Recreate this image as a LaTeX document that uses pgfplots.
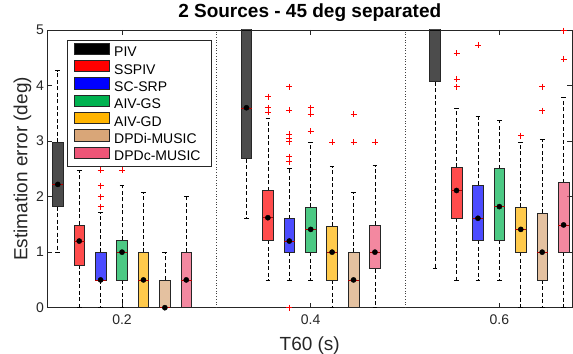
\documentclass[border=0pt]{standalone}
\usepackage{fontspec}
\setmainfont{Liberation Sans}
\usepackage{pgfplots}
\pgfplotsset{compat=1.18}
\usepgfplotslibrary{statistics}
\definecolor{cPIV}{RGB}{0,0,0}
\definecolor{cSSPIV}{RGB}{255,0,0}
\definecolor{cSCSRP}{RGB}{0,0,255}
\definecolor{cAIVGS}{RGB}{0,178,80}
\definecolor{cAIVGD}{RGB}{255,180,0}
\definecolor{cDPDi}{RGB}{217,166,120}
\definecolor{cDPDc}{RGB}{238,85,119}
\definecolor{axc}{RGB}{38,38,38}
\pgfplotsset{
  mybox/.style={forget plot, draw=axc, line width=0.7pt,
    mark=+, mark size=3pt, mark options={red, solid, line width=0.7pt},
    boxplot/draw direction=y,
    boxplot/every box/.style={fill=#1, fill opacity=0.7},
    boxplot/every median/.style={draw=red!70!black, line width=0.5pt},
    boxplot/draw/lower whisker/.code={%
      \draw[black, line width=0.6pt, dash pattern=on 4pt off 2.5pt]
        (boxplot cs:\pgfplotsboxplotvalue{lower quartile}) -- (boxplot cs:\pgfplotsboxplotvalue{lower whisker});
      \draw[black, line width=0.6pt]
        (boxplot whisker cs:\pgfplotsboxplotvalue{lower whisker},0) -- (boxplot whisker cs:\pgfplotsboxplotvalue{lower whisker},1);},
    boxplot/draw/upper whisker/.code={%
      \draw[black, line width=0.6pt, dash pattern=on 4pt off 2.5pt]
        (boxplot cs:\pgfplotsboxplotvalue{upper quartile}) -- (boxplot cs:\pgfplotsboxplotvalue{upper whisker});
      \draw[black, line width=0.6pt]
        (boxplot whisker cs:\pgfplotsboxplotvalue{upper whisker},0) -- (boxplot whisker cs:\pgfplotsboxplotvalue{upper whisker},1);},
  },
}
% #1 colour, #2 position, #3 lower whisker, #4 lower quartile, #5 median, #6 upper quartile, #7 upper whisker
\newcommand{\bx}[7]{\addplot[mybox=#1, boxplot prepared={draw position=#2, lower whisker=#3, lower quartile=#4, median=#5, upper quartile=#6, upper whisker=#7, box extend=0.0113, whisker extend=0.005}]}
\begin{document}
\begin{tikzpicture}
\begin{axis}[
  scale only axis, width=524.5pt, height=277.7pt,
  xmin=0.121, xmax=0.677, ymin=0, ymax=5,
  xtick={0.2,0.4,0.6}, xticklabels={0.2,0.4,0.6},
  ytick={0,1,2,3,4,5},
  tick align=inside, tick pos=both, major tick length=5pt,
  axis line style={axc, line width=0.6pt},
  every tick/.style={axc, line width=0.6pt},
  tick label style={font=\fontsize{14}{14}\selectfont, text=axc},
  /pgf/number format/assume math mode=true,
  xticklabel style={yshift=-3pt},
  title={\textbf{2 Sources - 45 deg separated}},
  title style={font=\fontsize{19}{19}\selectfont, at={(axis description cs:0.5,1)}, anchor=base, yshift=6.5pt, inner sep=0pt},
  xlabel={T60 (s)},
  xlabel style={font=\fontsize{19}{19}\selectfont, at={(axis description cs:0.5,0)}, anchor=base, yshift=-43pt, inner sep=0pt, text=axc},
  ylabel={Estimation error (deg)},
  ylabel style={font=\fontsize{19}{19}\selectfont, at={(axis description cs:-0.0385,0.5)}, anchor=base, inner sep=0pt, text=axc},
  legend image code/.code={\draw[#1, draw=axc, line width=0.7pt] (0pt,-1.2pt) rectangle (35pt,10pt);},
  legend cell align=left,
  legend style={at={(axis description cs:0.0366,0.964)}, anchor=north west, draw=axc, line width=0.5pt, fill=white,
    inner xsep=6.6pt, inner ysep=2.5pt, font=\fontsize{14}{14}\selectfont,
    nodes={font=\fontsize{14}{14}\selectfont, inner sep=0pt, text height=10.6pt, text depth=3.4pt, text width=90pt, align=left},
    column sep=5pt, row sep=0pt},
]
\coordinate (bl) at (rel axis cs:0,0);
\coordinate (tr) at (rel axis cs:1,1);
\addlegendimage{fill=cPIV}\addlegendentry{PIV}
\addlegendimage{fill=cSSPIV}\addlegendentry{SSPIV}
\addlegendimage{fill=cSCSRP}\addlegendentry{SC-SRP}
\addlegendimage{fill=cAIVGS}\addlegendentry{AIV-GS}
\addlegendimage{fill=cAIVGD}\addlegendentry{AIV-GD}
\addlegendimage{fill=cDPDi}\addlegendentry{DPDi-MUSIC}
\addlegendimage{fill=cDPDc}\addlegendentry{DPDc-MUSIC}

\addplot[forget plot, black!75, dotted, line width=0.7pt] coordinates {(0.3,0) (0.3,5)};
\addplot[forget plot, black!75, dotted, line width=0.7pt] coordinates {(0.5,0) (0.5,5)};

% T60 = 0.2
\bx{cPIV}{0.1319}{1.0}{1.82}{2.22}{2.98}{4.27} coordinates {};
\bx{cSSPIV}{0.1546}{0}{0.77}{1.2}{1.49}{2.48} coordinates {};
\bx{cSCSRP}{0.1773}{0}{0.5}{0.5}{1.0}{1.71} coordinates {(0,1.82) (0,2.0) (0,2.2) (0,2.48)};
\bx{cAIVGS}{0.2}{0}{0.5}{1.0}{1.21}{2.2} coordinates {(0,2.48)};
\bx{cAIVGD}{0.2227}{0}{0}{0.5}{1.0}{2.07} coordinates {};
\bx{cDPDi}{0.2454}{0}{0}{0}{0.5}{1.0} coordinates {};
\bx{cDPDc}{0.2681}{0}{0}{0.5}{1.0}{2.0} coordinates {};
% T60 = 0.4
\bx{cPIV}{0.3319}{1.61}{2.68}{3.6}{5.6}{6.5} coordinates {};
\bx{cSSPIV}{0.3546}{0.5}{1.21}{1.62}{2.11}{3.41} coordinates {(0,3.52) (0,3.6) (0,3.8)};
\bx{cSCSRP}{0.3773}{0.5}{1.0}{1.2}{1.6}{2.51} coordinates {(0,0) (0,2.63) (0,2.72) (0,2.99) (0,3.05) (0,3.12) (0,3.56) (0,3.98)};
\bx{cAIVGS}{0.4}{0.5}{1.0}{1.41}{1.81}{2.98} coordinates {(0,3.18) (0,3.48) (0,3.6)};
\bx{cAIVGD}{0.4227}{0}{0.5}{1.0}{1.47}{2.55} coordinates {(0,2.98)};
\bx{cDPDi}{0.4454}{0}{0}{0.5}{1.0}{2.07} coordinates {(0,2.98) (0,3.48)};
\bx{cDPDc}{0.4681}{0}{0.7}{1.0}{1.49}{2.56} coordinates {(0,2.98)};
% T60 = 0.6
\bx{cPIV}{0.5319}{0.71}{4.07}{6.0}{7.0}{8.0} coordinates {};
\bx{cSSPIV}{0.5546}{0.5}{1.61}{2.11}{2.53}{3.59} coordinates {(0,3.98) (0,4.12) (0,4.58)};
\bx{cSCSRP}{0.5773}{0.5}{1.21}{1.61}{2.21}{3.45} coordinates {(0,4.73)};
\bx{cAIVGS}{0.6}{0.5}{1.21}{1.82}{2.5}{3.37} coordinates {};
\bx{cAIVGD}{0.6227}{0}{1.0}{1.41}{1.81}{2.98} coordinates {(0,3.1)};
\bx{cDPDi}{0.6454}{0}{0.5}{1.0}{1.7}{3.03} coordinates {(0,3.55) (0,3.98)};
\bx{cDPDc}{0.6681}{0}{1.0}{1.49}{2.25}{3.79} coordinates {(0,4.48) (0,4.99)};

% median dots
\addplot[forget plot, only marks, mark=*, mark size=2.6pt, black] coordinates {
 (0.1319,2.22) (0.1546,1.2) (0.1773,0.5) (0.2,1.0) (0.2227,0.5) (0.2454,0) (0.2681,0.5)
 (0.3319,3.6) (0.3546,1.62) (0.3773,1.2) (0.4,1.41) (0.4227,1.0) (0.4454,0.5) (0.4681,1.0)
 (0.5546,2.11) (0.5773,1.61) (0.6,1.82) (0.6227,1.41) (0.6454,1.0) (0.6681,1.49)
};
\end{axis}
\pgfresetboundingbox
\path ([shift={(-47.5pt,-46.3pt)}]bl) rectangle ([shift={(1pt,30pt)}]tr);
\end{tikzpicture}
\end{document}
